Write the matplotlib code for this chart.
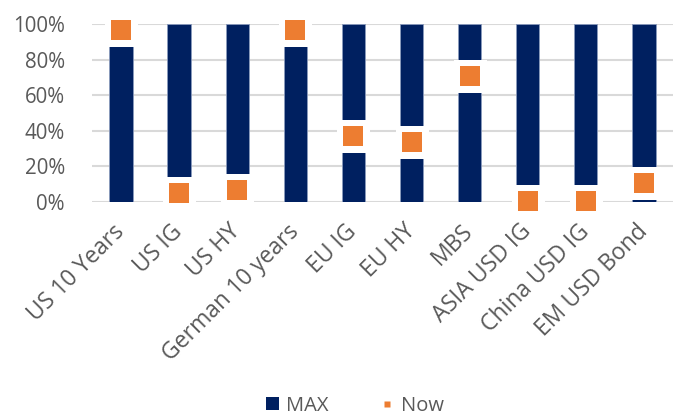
import matplotlib
matplotlib.use("Agg")
import matplotlib.pyplot as plt
from matplotlib.lines import Line2D
from matplotlib.patches import Patch

categories = ["US 10 Years", "US IG", "US HY", "German 10 years", "EU IG",
              "EU HY", "MBS", "ASIA USD IG", "China USD IG", "EM USD Bond"]
max_values = [100, 100, 100, 100, 100, 100, 100, 100, 100, 100]
now_values = [96.4, 4.7, 6.6, 96.4, 36.8, 33.4, 70.7, 0.5, 0.5, 10.5]
y_ticks = [0, 20, 40, 60, 80, 100]
y_tick_labels = ["0%", "20%", "40%", "60%", "80%", "100%"]

NAVY = "#002060"
ORANGE = "#ED7D31"
GREY_TEXT = "#595959"
GRID = "#D9D9D9"

plt.rcParams["font.family"] = ["Open Sans", "DejaVu Sans"]

fig = plt.figure(figsize=(6.76, 4.15), dpi=100)
ax = fig.add_axes([0.136, 0.514, 0.8596, 0.428])

x = list(range(len(categories)))
ax.bar(x, max_values, width=0.4, color=NAVY, edgecolor="#8a9bbd",
       linewidth=0.6, zorder=2)

# Now markers: white halo first, then the orange square on top
ax.scatter(x, now_values, marker="s", s=(33 * 72 / 100) ** 2,
           color="white", linewidths=0, zorder=3, clip_on=False)
ax.scatter(x, now_values, marker="s", s=(20 * 72 / 100) ** 2,
           color=ORANGE, linewidths=0, zorder=4, clip_on=False)

ax.set_xlim(-0.5, len(categories) - 0.5)
ax.set_ylim(0, 100)
ax.set_yticks(y_ticks)
ax.set_yticklabels(y_tick_labels)
ax.yaxis.grid(True, color=GRID, linewidth=1.5, zorder=0)
ax.set_axisbelow(True)
for s in ax.spines.values():
    s.set_visible(False)
ax.tick_params(axis="y", length=0, labelsize=14.8, colors=GREY_TEXT, pad=19.5)

ax.set_xticks(x)
ax.set_xticklabels(categories, rotation=45, ha="right",
                   rotation_mode="anchor", va="center")
ax.tick_params(axis="x", length=0, labelsize=16.5, colors=GREY_TEXT, pad=19)

handles = [
    Patch(facecolor=NAVY, edgecolor="none", label="MAX"),
    Line2D([], [], marker="s", linestyle="none", markersize=4,
           markerfacecolor=ORANGE, markeredgecolor="none", label="Now"),
]
fig.legend(handles=handles, loc="lower center", ncol=2, frameon=False,
           bbox_to_anchor=(0.525, -0.045), fontsize=14.5, labelcolor=GREY_TEXT,
           handlelength=0.65, handleheight=0.65, columnspacing=2.6,
           handletextpad=0.35)

fig.savefig("out.png", dpi=100)
